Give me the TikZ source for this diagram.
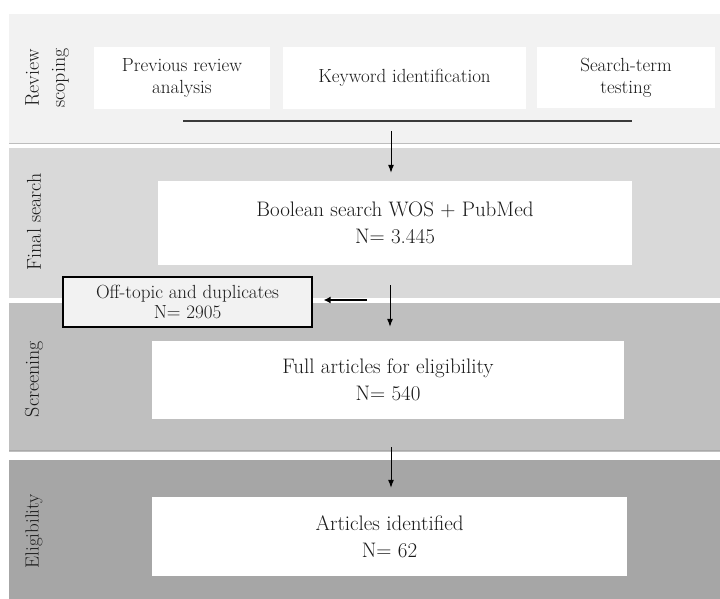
\documentclass[tikz,border=0pt]{standalone}
\usepackage{fontspec}
\usetikzlibrary{arrows.meta,calc}
\definecolor{bandA}{HTML}{F2F2F2}
\definecolor{bandB}{HTML}{D9D9D9}
\definecolor{bandC}{HTML}{BFBFBF}
\definecolor{bandD}{HTML}{A6A6A6}
\definecolor{lineA}{HTML}{BDBDBD}
\definecolor{lineC}{HTML}{A9A9A9}
\definecolor{conn}{HTML}{3A3A3A}
\definecolor{ink}{HTML}{1A1A1A}
\begin{document}
\begin{tikzpicture}[x=1pt,y=-1pt,
  band/.style={fill=#1, draw=none},
  wbox/.style={fill=white, draw=none, inner sep=0pt, align=center, text=ink,
    font=\fontsize{21}{27}\selectfont},
  sbox/.style={fill=white, draw=none, inner sep=0pt, align=center, text=ink,
    font=\fontsize{19}{22}\selectfont},
  offbox/.style={fill=bandA, draw=black, line width=1.2pt, inner sep=0pt, align=center, text=ink,
    font=\fontsize{19}{20}\selectfont},
  phase/.style={rotate=90, inner sep=0pt, align=center, text=ink,
    font=\fontsize{20}{26}\selectfont\addfontfeature{LetterSpace=6}},
  arr/.style={-{Latex[length=8pt,width=6pt]}, line width=1pt, black},
  arrthick/.style={-{Latex[length=7pt,width=7pt]}, line width=1.8pt, black},
]
\useasboundingbox (0,0) rectangle (720,599);
\fill[white] (0,0) rectangle (720,599);
% bands
\path[band=bandA] (9,14) rectangle (720,143);
\draw[lineA, line width=1pt] (9,143.5) -- (720,143.5);
\path[band=bandB] (9,148) rectangle (720,297.5);
\path[band=bandC] (9,303) rectangle (720,452);
\draw[lineC, line width=1pt] (9,450) -- (720,450);
\path[band=bandD] (9,460) rectangle (720,599);
% phase labels
\node[phase] (lrev) at (47,78) {Review\\scoping};
\node[phase, font=\fontsize{20}{26}\selectfont\addfontfeature{LetterSpace=9}] (lfin) at (34,222) {Final search};
\node[phase] (lscr) at (34,379) {Screening};
\node[phase, font=\fontsize{19}{26}\selectfont\addfontfeature{LetterSpace=3}] (lelg) at (34,531) {Eligibility};
% scoping boxes
\node[sbox, minimum width=176pt, minimum height=62pt] (prev) at (182,78) {Previous review\\analysis};
\node[sbox, minimum width=243pt, minimum height=62pt] (key) at (404.5,78) {Keyword identification};
\node[sbox, minimum width=178pt, minimum height=61pt] (test) at (626,77.5) {Search-term\\testing};
% main boxes
\node[wbox, minimum width=474pt, minimum height=84pt] (final) at (395,223) {Boolean search WOS + PubMed\\N= 3.445};
\node[wbox, minimum width=472pt, minimum height=78pt] (screen) at (388,380) {Full articles for eligibility\\N= 540};
\node[wbox, minimum width=475pt, minimum height=79pt] (elig) at (389.5,536.5) {Articles identified\\N= 62};
\node[offbox, minimum width=249pt, minimum height=50pt] (off) at (187.5,302) {Off-topic and duplicates\\N= 2905};
% connectors
\coordinate (la) at (183,121);
\coordinate (lb) at (632,121);
\coordinate (lm) at (391,121);
\draw[conn, line width=1.5pt] (la) -- (lb);
\draw[arr, shorten <=10pt, shorten >=8pt] (lm) -- (lm |- final.north);
\draw[arr, shorten <=20pt, shorten >=14pt] ([xshift=-5pt]final.south) -- ([xshift=-5pt]final.south |- screen.north);
\coordinate (lo) at (367,300);
\draw[arrthick, shorten >=11pt] (lo) -- (lo -| off.east);
\draw[arr, shorten <=28pt, shorten >=9pt] ([xshift=3pt]screen.south) -- ([xshift=3pt]screen.south |- elig.north);
\end{tikzpicture}
\end{document}
